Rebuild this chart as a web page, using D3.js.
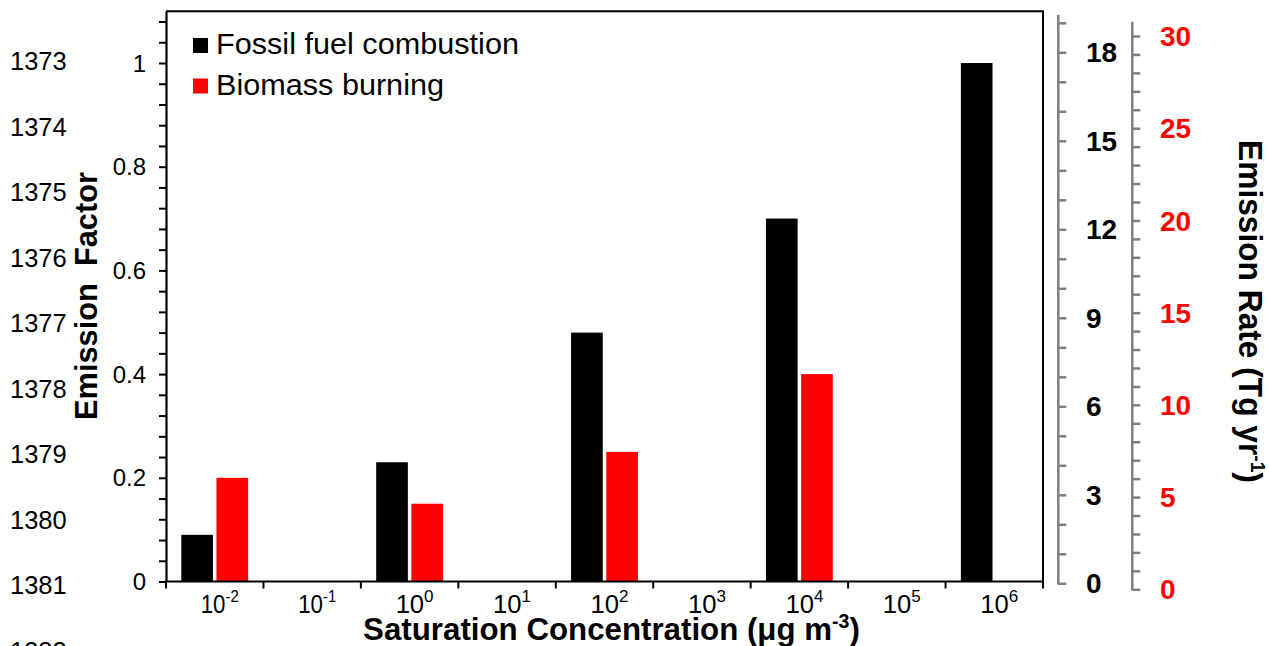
<!DOCTYPE html>
<html>
<head>
<meta charset="utf-8">
<script src="https://cdn.jsdelivr.net/npm/d3@7"></script>
<style>
  html, body { margin: 0; padding: 0; background: #fff; }
  svg { display: block; }
  text { font-family: "Liberation Sans", Arial, sans-serif; }
</style>
</head>
<body>
<svg id="chart" width="1269" height="646"></svg>
<script>
// ---- data ----
const exponents = ["-2", "-1", "0", "1", "2", "3", "4", "5", "6"];
const fossilFuel = [0.09, null, 0.23, null, 0.48, null, 0.70, null, 1.0];
const biomassBurning = [0.20, null, 0.15, null, 0.25, null, 0.40, null, null];
const seriesNames = ["Fossil fuel combustion", "Biomass burning"];
const seriesColors = ["#000000", "#ff0000"];
const leftTickValues = [0, 0.2, 0.4, 0.6, 0.8, 1];
const leftTickLabels = ["0", "0.2", "0.4", "0.6", "0.8", "1"];
const rightBlackTicks = [0, 3, 6, 9, 12, 15, 18];
const rightRedTicks = [0, 5, 10, 15, 20, 25, 30];
const lineNumbers = [1373, 1374, 1375, 1376, 1377, 1378, 1379, 1380, 1381, 1382];

// ---- layout ----
const svg = d3.select("#chart");
const L = 166, R = 1043, B = 581.5;
const y = d3.scaleLinear().domain([0, 1.1]).range([B, B - 1.1 * 518.5]);
const T = y(1.1);
const x = d3.scaleBand().domain(exponents).range([L, R]);
const bw = x.bandwidth();
const barW = bw * 0.325, gap = bw * 0.036;

// fit a text group horizontally to a target width (condensed fonts in original)
function fitWidth(g, target) {
  const w = g.node().getBBox().width;
  g.select("text").attr("transform", `scale(${target / w},1)`);
}

// line numbers on the far left
svg.append("g").selectAll("text").data(lineNumbers).join("text")
  .attr("x", 10)
  .attr("y", (d, i) => 70 + i * 65.5)
  .attr("font-size", 25.5)
  .attr("fill", "#000")
  .text(d => d);

// bars
const bars = svg.append("g");
exponents.forEach((e, i) => {
  const cx = x(e) + bw / 2;
  if (fossilFuel[i] != null) {
    bars.append("rect")
      .attr("x", cx - gap / 2 - barW).attr("width", barW)
      .attr("y", y(fossilFuel[i])).attr("height", B - y(fossilFuel[i]))
      .attr("fill", seriesColors[0]);
  }
  if (biomassBurning[i] != null) {
    bars.append("rect")
      .attr("x", cx + gap / 2).attr("width", barW)
      .attr("y", y(biomassBurning[i])).attr("height", B - y(biomassBurning[i]))
      .attr("fill", seriesColors[1]);
  }
});

// plot box (top & right)
svg.append("path")
  .attr("d", `M${L},${T}H${R}V${B}`)
  .attr("fill", "none").attr("stroke", "#000").attr("stroke-width", 2);

// left axis: minor ticks
const minorVals = d3.range(0, 1.1, 0.04);
svg.append("g").attr("transform", `translate(${L},0)`)
  .call(d3.axisLeft(y).tickValues(minorVals).tickSize(7).tickSizeOuter(0).tickFormat(""))
  .call(g => g.selectAll("line").attr("stroke", "#000").attr("stroke-width", 2))
  .call(g => g.select(".domain").attr("stroke", "#000").attr("stroke-width", 2.2));
// left axis labels
svg.append("g").selectAll("text").data(leftTickValues).join("text")
  .attr("x", 146).attr("y", d => y(d)).attr("dy", "0.36em")
  .attr("text-anchor", "end").attr("font-size", 24).attr("fill", "#000")
  .text((d, i) => leftTickLabels[i]);

// bottom axis
svg.append("line").attr("x1", L - 1).attr("x2", R + 1).attr("y1", B).attr("y2", B)
  .attr("stroke", "#000").attr("stroke-width", 2.2);
const tickXs = exponents.map(e => x(e)).concat([R]);
svg.append("g").selectAll("line").data(tickXs).join("line")
  .attr("x1", d => d).attr("x2", d => d).attr("y1", B).attr("y2", B + 7)
  .attr("stroke", "#000").attr("stroke-width", 2);
exponents.forEach(e => {
  const g = svg.append("g").attr("transform", `translate(${x(e) + bw / 2 + 5},612.5)`);
  const t = g.append("text").attr("text-anchor", "middle").attr("font-size", 25.5).attr("fill", "#000");
  t.append("tspan").text("10");
  t.append("tspan").attr("dy", -11).attr("font-size", 17).text(e);
  const w = g.node().getBBox().width;
  t.attr("transform", `scale(${38 / w},1)`);
});

// x title
const xg = svg.append("g").attr("transform", "translate(611.5,639.5)");
const xt = xg.append("text").attr("text-anchor", "middle")
  .attr("font-size", 32).attr("font-weight", "bold").attr("fill", "#000");
xt.append("tspan").text("Saturation Concentration (μg m");
xt.append("tspan").attr("dy", -12).attr("font-size", 20).text("-3");
xt.append("tspan").attr("dy", 12).text(")");
fitWidth(xg, 497);

// left title
const lg = svg.append("g").attr("transform", "translate(97,296) rotate(-90)");
lg.append("text").attr("text-anchor", "middle")
  .attr("font-size", 32).attr("font-weight", "bold")
  .attr("fill", "#000").style("white-space", "pre")
  .text("Emission  Factor");
fitWidth(lg, 248);

// right black axis
const yB = d3.scaleLinear().domain([0, 18]).range([583.3, 52.3]);
const gray = "#808080";
svg.append("g").attr("transform", "translate(1058.3,0)")
  .call(d3.axisRight(yB).tickValues(d3.range(0, 20, 1)).tickSize(8).tickSizeOuter(0).tickFormat(""))
  .call(g => g.selectAll("line").attr("stroke", gray).attr("stroke-width", 2.5))
  .call(g => g.select(".domain").remove());
svg.append("line").attr("x1", 1058.3).attr("x2", 1058.3).attr("y1", 15).attr("y2", yB(0) + 1.2)
  .attr("stroke", gray).attr("stroke-width", 2.5);
svg.append("g").selectAll("text").data(rightBlackTicks).join("text")
  .attr("x", 1086).attr("y", d => yB(d)).attr("dy", "0.36em")
  .attr("font-size", 28).attr("font-weight", "bold").attr("fill", "#000")
  .text(d => d);

// right red axis
const yR = d3.scaleLinear().domain([0, 30]).range([589.3, 36]);
svg.append("g").attr("transform", "translate(1132.3,0)")
  .call(d3.axisRight(yR).tickValues(d3.range(0, 31, 1)).tickSize(8).tickSizeOuter(0).tickFormat(""))
  .call(g => g.selectAll("line").attr("stroke", gray).attr("stroke-width", 2.5))
  .call(g => g.select(".domain").remove());
svg.append("line").attr("x1", 1132.3).attr("x2", 1132.3).attr("y1", 21.7).attr("y2", yR(0) + 1.2)
  .attr("stroke", gray).attr("stroke-width", 2.5);
svg.append("g").selectAll("text").data(rightRedTicks).join("text")
  .attr("x", 1160).attr("y", d => yR(d)).attr("dy", "0.36em")
  .attr("font-size", 28).attr("font-weight", "bold").attr("fill", "#ff0000")
  .text(d => d);

// right title
const rg = svg.append("g").attr("transform", "translate(1239,311.5) rotate(90)");
const rt = rg.append("text").attr("text-anchor", "middle")
  .attr("font-size", 33).attr("font-weight", "bold").attr("fill", "#000");
rt.append("tspan").text("Emission Rate (Tg yr");
rt.append("tspan").attr("dy", -12).attr("font-size", 20).text("-1");
rt.append("tspan").attr("dy", 12).text(")");
fitWidth(rg, 343);

// legend
const leg = svg.append("g");
seriesNames.forEach((name, i) => {
  leg.append("rect").attr("x", 193).attr("y", 38 + i * 40.5).attr("width", 15).attr("height", 15)
    .attr("fill", seriesColors[i]);
  leg.append("text").attr("x", 216).attr("y", 54 + i * 41)
    .attr("font-size", 29.5).attr("fill", "#000")
    .attr("textLength", i === 0 ? 303 : 228).attr("lengthAdjust", "spacingAndGlyphs")
    .text(name);
});
</script>
</body>
</html>
